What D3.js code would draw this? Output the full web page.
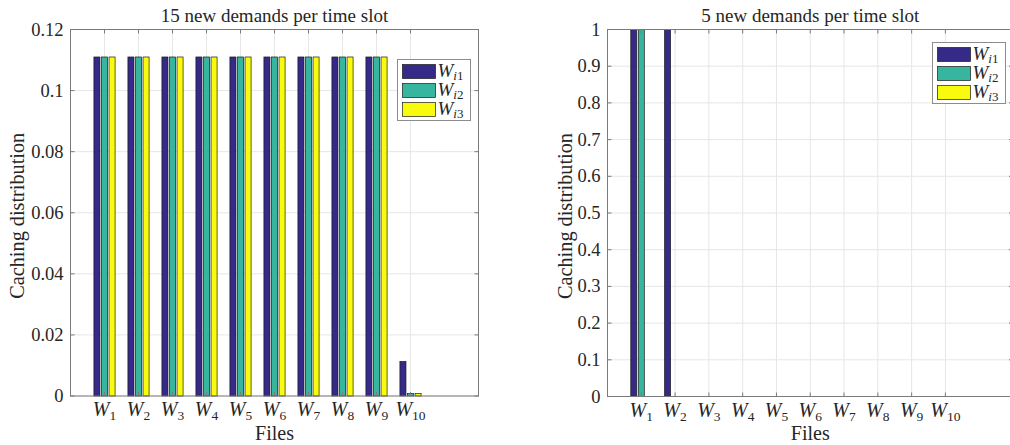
<!DOCTYPE html>
<html>
<head>
<meta charset="utf-8">
<script src="https://cdn.jsdelivr.net/npm/d3@7"></script>
<style>
  body { margin: 0; background: #fff; }
  svg text { font-family: "Liberation Serif", "DejaVu Serif", serif; fill: #262626; }
</style>
</head>
<body>
<svg id="chart" width="1010" height="445"></svg>
<script>
// file indices W_1 .. W_10
var files = [1, 2, 3, 4, 5, 6, 7, 8, 9, 10];
var seriesNames = ["1", "2", "3"];
var colors = ["#352a87", "#36b69e", "#f9fb0e"];

// left: 15 new demands per time slot
var leftW1 = [0.111, 0.111, 0.111, 0.111, 0.111, 0.111, 0.111, 0.111, 0.111, 0.0113];
var leftW2 = [0.111, 0.111, 0.111, 0.111, 0.111, 0.111, 0.111, 0.111, 0.111, 0.0008];
var leftW3 = [0.111, 0.111, 0.111, 0.111, 0.111, 0.111, 0.111, 0.111, 0.111, 0.0008];
var leftTicks = [0, 0.02, 0.04, 0.06, 0.08, 0.1, 0.12];

// right: 5 new demands per time slot
var rightW1 = [1, 1, 0, 0, 0, 0, 0, 0, 0, 0];
var rightW2 = [1, 0, 0, 0, 0, 0, 0, 0, 0, 0];
var rightW3 = [0, 0, 0, 0, 0, 0, 0, 0, 0, 0];
var rightTicks = [0, 0.1, 0.2, 0.3, 0.4, 0.5, 0.6, 0.7, 0.8, 0.9, 1];

var svg = d3.select("#chart");
var fmt = d3.format("~g");
var serif = "Liberation Serif";

function drawPanel(cfg) {
  var x = d3.scaleLinear().domain([0, 12]).range([cfg.left, cfg.right]);
  var y = d3.scaleLinear().domain([0, cfg.ymax]).range([cfg.bottom, cfg.top]);
  var g = svg.append("g").attr("font-family", serif);

  // grid
  g.selectAll(".gy").data(cfg.ticks).enter().append("line")
    .attr("x1", cfg.left).attr("x2", cfg.right)
    .attr("y1", d => y(d)).attr("y2", d => y(d))
    .attr("stroke", "#e6e6e6");
  g.selectAll(".gx").data(files).enter().append("line")
    .attr("x1", d => x(d)).attr("x2", d => x(d))
    .attr("y1", cfg.top).attr("y2", cfg.bottom)
    .attr("stroke", "#e6e6e6");

  // bars
  var groupW = 0.667, step = groupW / 3, barW = step * 0.8;
  cfg.series.forEach(function(vals, j) {
    var off = (j - 1) * step;
    g.selectAll(".b" + j).data(vals).enter().append("rect")
      .attr("x", (d, i) => x(files[i] + off - barW / 2))
      .attr("width", x(barW) - x(0))
      .attr("y", d => y(d))
      .attr("height", d => cfg.bottom - y(d))
      .attr("fill", colors[j])
      .attr("stroke", "#1a1a1a")
      .attr("stroke-width", 0.7);
  });

  // box + ticks
  var ax = "#7a7a7a";
  g.append("rect").attr("x", cfg.left).attr("y", cfg.top)
    .attr("width", cfg.right - cfg.left).attr("height", cfg.bottom - cfg.top)
    .attr("fill", "none").attr("stroke", ax);
  var tl = 4;
  files.forEach(function(f) {
    g.append("line").attr("x1", x(f)).attr("x2", x(f)).attr("y1", cfg.bottom).attr("y2", cfg.bottom - tl).attr("stroke", ax);
    g.append("line").attr("x1", x(f)).attr("x2", x(f)).attr("y1", cfg.top).attr("y2", cfg.top + tl).attr("stroke", ax);
  });
  cfg.ticks.forEach(function(t) {
    g.append("line").attr("x1", cfg.left).attr("x2", cfg.left + tl).attr("y1", y(t)).attr("y2", y(t)).attr("stroke", ax);
    g.append("line").attr("x1", cfg.right).attr("x2", cfg.right - tl).attr("y1", y(t)).attr("y2", y(t)).attr("stroke", ax);
  });

  // y tick labels
  g.selectAll(".yl").data(cfg.ticks).enter().append("text")
    .attr("x", cfg.left - 7).attr("y", d => y(d) + 6)
    .attr("text-anchor", "end").attr("font-size", 18.5)
    .text(d => fmt(d));

  // x tick labels W_n
  files.forEach(function(f) {
    var t = g.append("text").attr("x", x(f)).attr("y", cfg.bottom + 20)
      .attr("text-anchor", "middle").attr("font-size", 20);
    t.append("tspan").attr("font-style", "italic").text("W");
    t.append("tspan").attr("font-size", 13.5).attr("dy", 4).text(f);
  });

  // titles
  g.append("text").attr("x", (cfg.left + cfg.right) / 2).attr("y", 22)
    .attr("text-anchor", "middle").attr("font-size", 19).text(cfg.title);
  g.append("text").attr("x", (cfg.left + cfg.right) / 2).attr("y", 440)
    .attr("text-anchor", "middle").attr("font-size", 20).text("Files");
  g.append("text")
    .attr("transform", "translate(" + cfg.ylabX + "," + ((cfg.top + cfg.bottom) / 2 + 3) + ") rotate(-90)")
    .attr("text-anchor", "middle").attr("font-size", 21)
    .attr("textLength", 166).attr("lengthAdjust", "spacingAndGlyphs")
    .text("Caching distribution");

  // legend
  var lg = g.append("g").attr("transform", "translate(" + cfg.legX + "," + cfg.legY + ")");
  lg.append("rect").attr("width", 73).attr("height", 61)
    .attr("fill", "#fff").attr("stroke", "#8c8c8c");
  seriesNames.forEach(function(s, j) {
    var yy = 5 + j * 19;
    lg.append("rect").attr("x", 5).attr("y", yy).attr("width", 33).attr("height", 14)
      .attr("fill", colors[j]).attr("stroke", "#1a1a1a").attr("stroke-width", 0.7);
    var t = lg.append("text").attr("x", 40).attr("y", yy + 12).attr("font-size", 19);
    t.append("tspan").attr("font-style", "italic").text("W");
    t.append("tspan").attr("font-size", 13).attr("dy", 3).attr("font-style", "italic").text("i");
    t.append("tspan").attr("font-size", 13).text(s);
  });
}

drawPanel({
  left: 70.5, right: 478.5, top: 29.5, bottom: 396,
  ymax: 0.12, ticks: leftTicks, series: [leftW1, leftW2, leftW3],
  title: "15 new demands per time slot", ylabX: 24, legX: 397.5, legY: 59.5
});
drawPanel({
  left: 607.5, right: 1013, top: 29.5, bottom: 396.5,
  ymax: 1, ticks: rightTicks, series: [rightW1, rightW2, rightW3],
  title: "5 new demands per time slot", ylabX: 572, legX: 932.5, legY: 42.5
});
</script>
</body>
</html>
